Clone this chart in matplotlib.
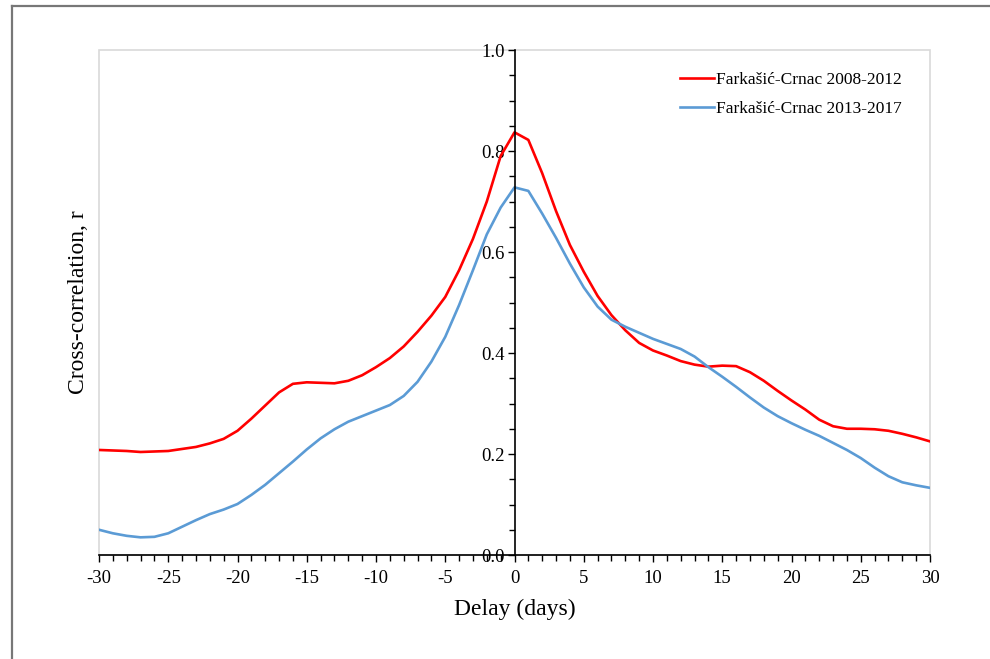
import numpy as np
import matplotlib.pyplot as plt
from matplotlib.lines import Line2D
from matplotlib.ticker import MultipleLocator

plt.rcParams['font.family'] = ['Liberation Serif', 'DejaVu Serif']
plt.rcParams['axes.unicode_minus'] = False

delay = np.arange(-30, 31)

r_2008 = [0.208, 0.207, 0.206, 0.204, 0.205, 0.206, 0.210, 0.214, 0.221, 0.230,
          0.246, 0.270, 0.296, 0.322, 0.339, 0.342, 0.341, 0.340, 0.345, 0.356,
          0.372, 0.390, 0.413, 0.442, 0.474, 0.511, 0.564, 0.626, 0.700, 0.790,
          0.837, 0.822, 0.756, 0.681, 0.614, 0.561, 0.513, 0.475, 0.445, 0.420,
          0.405, 0.395, 0.384, 0.377, 0.373, 0.375, 0.374, 0.362, 0.345, 0.325,
          0.306, 0.288, 0.268, 0.255, 0.250, 0.250, 0.249, 0.246, 0.240, 0.233,
          0.225]

r_2013 = [0.050, 0.043, 0.038, 0.035, 0.036, 0.043, 0.056, 0.069, 0.081, 0.090,
          0.101, 0.119, 0.139, 0.162, 0.185, 0.209, 0.231, 0.249, 0.264, 0.275,
          0.286, 0.297, 0.315, 0.343, 0.383, 0.432, 0.495, 0.564, 0.635, 0.688,
          0.728, 0.721, 0.676, 0.628, 0.577, 0.530, 0.492, 0.466, 0.452, 0.440,
          0.428, 0.418, 0.408, 0.393, 0.372, 0.353, 0.333, 0.312, 0.292, 0.275,
          0.261, 0.248, 0.236, 0.222, 0.208, 0.192, 0.173, 0.156, 0.144, 0.138,
          0.133]

fig = plt.figure(figsize=(9.9, 6.59), dpi=100)
ax = fig.add_axes([0.1, 0.1578, 0.8394, 0.7663])

ax.plot(delay, r_2008, color='#ff0000', lw=1.9, label='Farkašić-Crnac 2008-2012')
ax.plot(delay, r_2013, color='#5b9bd5', lw=1.9, label='Farkašić-Crnac 2013-2017')

ax.set_xlim(-30, 30)
ax.set_ylim(0, 1.0)

# frame in light grey, y axis through zero
ax.patch.set_edgecolor('#d9d9d9')
ax.patch.set_linewidth(1.2)
for s in ['top', 'right']:
    ax.spines[s].set_visible(False)
ax.spines['left'].set_position(('data', 0))
ax.spines['left'].set_color('black')
ax.spines['bottom'].set_color('black')
ax.spines['left'].set_linewidth(1.2)
ax.spines['bottom'].set_linewidth(1.2)

ax.xaxis.set_major_locator(MultipleLocator(5))
ax.xaxis.set_minor_locator(MultipleLocator(1))
ax.yaxis.set_major_locator(MultipleLocator(0.2))
ax.yaxis.set_minor_locator(MultipleLocator(0.05))
ax.yaxis.set_major_formatter(plt.FuncFormatter(lambda v, p: "{:.1f}".format(v)))

ax.tick_params(axis='both', which='major', direction='out', length=5, width=1,
               labelsize=13.5, colors='black')
ax.tick_params(axis='both', which='minor', direction='out', length=4, width=1)
ax.tick_params(axis='y', which='major', pad=2)
ax.tick_params(axis='x', which='major', pad=6)

ax.set_xlabel("Delay (days)", fontsize=17, labelpad=8)
ax.set_ylabel("Cross-correlation, r", fontsize=17)
ax.yaxis.set_label_coords(-0.012, 0.5)

ax.legend(loc='upper right', frameon=False, fontsize=12.5, handlelength=2.0,
          handletextpad=0.1, labelspacing=0.7, bbox_to_anchor=(0.985, 0.987))

# outer border (left and top only)
fig.add_artist(Line2D([12 / 990, 12 / 990], [0, 1 - 6 / 659],
                      transform=fig.transFigure, color='#777777', lw=1.6))
fig.add_artist(Line2D([12 / 990, 1], [1 - 6 / 659, 1 - 6 / 659],
                      transform=fig.transFigure, color='#777777', lw=1.6))

fig.savefig("out.png", dpi=100)
